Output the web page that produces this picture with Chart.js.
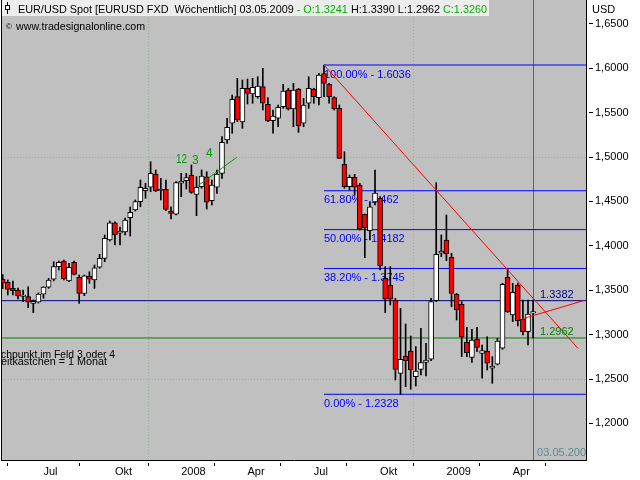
<!DOCTYPE html>
<html>
<head>
<meta charset="utf-8">
<script src="https://cdn.jsdelivr.net/npm/chart.js@4.4.0/dist/chart.umd.min.js"></script>
<style>
  html, body { margin: 0; padding: 0; background: #fff; }
  canvas { display: block; }
</style>
</head>
<body>
<canvas id="chart" width="640" height="480"></canvas>
<script>
// EUR/USD Wochenkerzen, 06.05.2007 .. 03.05.2009 (Index 0..104)
const open = [
  1.3623, 1.3589, 1.3521, 1.3502, 1.3430, 1.3427, 1.3352, 1.3364, 1.3454, 1.3533,
  1.3623, 1.3765, 1.3829, 1.3604, 1.3814, 1.3645, 1.3465, 1.3660, 1.3615, 1.3758,
  1.3859, 1.4065, 1.4260, 1.4141, 1.4155, 1.4316, 1.4403, 1.4497, 1.4621, 1.4659,
  1.4809, 1.4640, 1.4636, 1.4392, 1.4355, 1.4704, 1.4733, 1.4797, 1.4580, 1.4666,
  1.4778, 1.4508, 1.4659, 1.4816, 1.5191, 1.5380, 1.5679, 1.5394, 1.5774, 1.5709,
  1.5679, 1.5792, 1.5593, 1.5409, 1.5436, 1.5566, 1.5754, 1.5541, 1.5766, 1.5380,
  1.5605, 1.5766, 1.5668, 1.5940, 1.5819, 1.5668, 1.5548, 1.4918, 1.4666, 1.4771,
  1.4685, 1.4355, 1.4170, 1.4493, 1.4535, 1.3634, 1.3559, 1.3390, 1.2564, 1.2759,
  1.2815, 1.2526, 1.2609, 1.2688, 1.2722, 1.3382, 1.3916, 1.4065, 1.3871, 1.3454,
  1.3341, 1.2913, 1.2744, 1.2947, 1.2789, 1.2815, 1.2621, 1.2666, 1.2846, 1.3645,
  1.3221, 1.3559, 1.3176, 1.3033, 1.3241
];
const high = [
  1.3675, 1.3615, 1.3604, 1.3525, 1.3502, 1.3539, 1.3390, 1.3469, 1.3539, 1.3634,
  1.3821, 1.3829, 1.3840, 1.3803, 1.3829, 1.3671, 1.3671, 1.3708, 1.3784, 1.3904,
  1.4122, 1.4279, 1.4271, 1.4212, 1.4313, 1.4437, 1.4516, 1.4741, 1.4704, 1.4947,
  1.4854, 1.4760, 1.4741, 1.4440, 1.4722, 1.4816, 1.4816, 1.4910, 1.4778, 1.4854,
  1.4834, 1.4741, 1.4854, 1.5229, 1.5436, 1.5698, 1.5886, 1.5867, 1.5878, 1.5886,
  1.5904, 1.5999, 1.5668, 1.5529, 1.5586, 1.5819, 1.5774, 1.5830, 1.5774, 1.5661,
  1.5904, 1.5774, 1.5943, 1.6036, 1.5830, 1.5679, 1.5586, 1.5060, 1.4797, 1.4805,
  1.4704, 1.4358, 1.4497, 1.4854, 1.4553, 1.3765, 1.3765, 1.3409, 1.3296, 1.3119,
  1.2984, 1.2864, 1.3071, 1.2902, 1.3409, 1.4711, 1.4122, 1.4347, 1.3916, 1.3465,
  1.3371, 1.3082, 1.3060, 1.3082, 1.2883, 1.2976, 1.2751, 1.2958, 1.3578, 1.3735,
  1.3578, 1.3578, 1.3390, 1.3390, 1.3390
];
const low = [
  1.3517, 1.3446, 1.3446, 1.3401, 1.3371, 1.3303, 1.3247, 1.3356, 1.3409, 1.3521,
  1.3604, 1.3728, 1.3615, 1.3596, 1.3671, 1.3352, 1.3438, 1.3578, 1.3521, 1.3747,
  1.3821, 1.4054, 1.4009, 1.4009, 1.4122, 1.4110, 1.4392, 1.4440, 1.4535, 1.4609,
  1.4609, 1.4516, 1.4395, 1.4302, 1.4347, 1.4553, 1.4640, 1.4591, 1.4339, 1.4648,
  1.4414, 1.4459, 1.4591, 1.4760, 1.5154, 1.5267, 1.5398, 1.5323, 1.5597, 1.5605,
  1.5661, 1.5529, 1.5398, 1.5267, 1.5341, 1.5548, 1.5529, 1.5341, 1.5278, 1.5341,
  1.5548, 1.5605, 1.5586, 1.5679, 1.5605, 1.5529, 1.4982, 1.4648, 1.4628, 1.4572,
  1.4178, 1.3866, 1.4065, 1.4459, 1.3728, 1.3247, 1.3333, 1.2489, 1.2328, 1.2413,
  1.2384, 1.2421, 1.2545, 1.2534, 1.2706, 1.3371, 1.3877, 1.3832, 1.3314, 1.3164,
  1.2751, 1.2751, 1.2688, 1.2807, 1.2508, 1.2601, 1.2452, 1.2658, 1.2834, 1.3247,
  1.3145, 1.3097, 1.2996, 1.2883, 1.2962
];
const close = [
  1.3578, 1.3510, 1.3494, 1.3435, 1.3445, 1.3364, 1.3375, 1.3457, 1.3536, 1.3615,
  1.3765, 1.3814, 1.3626, 1.3758, 1.3679, 1.3465, 1.3663, 1.3623, 1.3753, 1.3859,
  1.4084, 1.4260, 1.4122, 1.4167, 1.4291, 1.4377, 1.4497, 1.4659, 1.4648, 1.4816,
  1.4617, 1.4624, 1.4411, 1.4366, 1.4711, 1.4730, 1.4767, 1.4602, 1.4659, 1.4786,
  1.4490, 1.4685, 1.4809, 1.5166, 1.5334, 1.5650, 1.5417, 1.5774, 1.5717, 1.5785,
  1.5800, 1.5605, 1.5405, 1.5462, 1.5560, 1.5743, 1.5541, 1.5754, 1.5352, 1.5586,
  1.5774, 1.5679, 1.5923, 1.5830, 1.5679, 1.5541, 1.4985, 1.4666, 1.4771, 1.4659,
  1.4189, 1.4204, 1.4440, 1.4595, 1.3773, 1.3398, 1.3398, 1.2609, 1.2722, 1.2706,
  1.2601, 1.2590, 1.2684, 1.2714, 1.3371, 1.3904, 1.3941, 1.3908, 1.3465, 1.3277,
  1.2970, 1.2796, 1.2939, 1.2857, 1.2819, 1.2677, 1.2646, 1.2928, 1.3566, 1.3258,
  1.3476, 1.3157, 1.3033, 1.3232, 1.3260
];

// Achsen
const monthIdx = [8, 22, 35, 48, 61, 74, 87, 100];
const monthLbl = ['Jul', 'Okt', '2008', 'Apr', 'Jul', 'Okt', '2009', 'Apr'];
const yearIdx = [35, 87];
const yTicks = [1.20, 1.25, 1.30, 1.35, 1.40, 1.45, 1.50, 1.55, 1.60, 1.65];
const yGrid = [1.25, 1.50];
const xMin = -0.137, xMax = 114.37;
const yMin = 1.158784, yMax = 1.676802;

// Fibonacci / Linien
const fibPct = ['100.00%', '61.80%', '50.00%', '38.20%', '0.00%'];
const fibVal = [1.6036, 1.462, 1.4182, 1.3745, 1.2328];
const fibTxt = ['1.6036', '1.462', '1.4182', '1.3745', '1.2328'];
const fibStart = 63;
const levelVal = [1.3382, 1.2962];
const levelCol = ['#000080', '#008000'];
const trendX = [63, 112.8];
const trendY = [1.6036, 1.2845];
const trend2X = [101.8, 113.85];
const trend2Y = [1.3176, 1.3382];
const waveX = [38.04, 45.9];
const waveY = [1.4666, 1.4997];
const lastIdx = 104;
const lastDate = '03.05.2009';

const gridCol = '#90b890';
const idx = open.map((_, i) => i);

const lineDs = (xs, ys, color, order) => ({
  type: 'line',
  data: xs.map((x, i) => ({ x: x, y: ys[i] })),
  borderColor: color,
  borderWidth: 1,
  pointRadius: 0,
  fill: false,
  tension: 0,
  order: order
});

const datasets = [];
datasets.push(lineDs(trendX, trendY, '#ff0000', 0));
datasets.push(lineDs(trend2X, trend2Y, '#ff0000', 0));
datasets.push(lineDs(waveX, waveY, '#009a00', 0));
datasets.push({
  type: 'bar',
  data: idx.map(i => ({ x: i, y: [open[i], close[i]] })),
  backgroundColor: idx.map(i => close[i] < open[i] ? '#ff0000' : '#ffffff'),
  borderColor: '#000',
  borderWidth: 1,
  borderSkipped: false,
  barThickness: 5,
  grouped: false,
  order: 1
});
datasets.push({
  type: 'bar',
  data: idx.map(i => ({ x: i, y: [low[i], high[i]] })),
  backgroundColor: '#000',
  borderWidth: 0,
  barThickness: 1,
  grouped: false,
  order: 2
});
fibVal.forEach(v => datasets.push(lineDs([fibStart, xMax], [v, v], '#0000ff', 3)));
levelVal.forEach((v, k) => datasets.push(lineDs([xMin, xMax], [v, v], levelCol[k], 3)));

Chart.defaults.font.family = '"Liberation Sans", Arial, sans-serif';
Chart.defaults.font.size = 11;

function txt(ctx, s, x, y, color, size, maxW) {
  ctx.font = (size || 11) + 'px "Liberation Sans", Arial, sans-serif';
  ctx.fillStyle = color;
  if (maxW) ctx.fillText(s, x, y, maxW); else ctx.fillText(s, x, y);
}

const decor = {
  id: 'decor',
  beforeDraw(chart) {
    const { ctx, chartArea: a } = chart;
    ctx.save();
    ctx.fillStyle = '#fff';
    ctx.fillRect(0, 0, chart.width, chart.height);
    ctx.fillStyle = '#c0c0c0';
    ctx.fillRect(a.left, a.top, a.right - a.left, a.bottom - a.top);
    ctx.restore();
  },
  beforeDatasetsDraw(chart) {
    const { ctx, chartArea: a, scales: { x, y } } = chart;
    ctx.save();
    // Datums-Cursor
    const cx = Math.round(x.getPixelForValue(lastIdx)) + 0.5;
    ctx.strokeStyle = '#41707a';
    ctx.lineWidth = 1;
    ctx.beginPath();
    ctx.moveTo(cx, a.top);
    ctx.lineTo(cx, a.bottom);
    ctx.stroke();
    // Fibonacci-Beschriftung
    const fx = x.getPixelForValue(fibStart);
    fibVal.forEach((v, k) => {
      txt(ctx, fibPct[k] + ' - ' + fibTxt[k], fx, y.getPixelForValue(v) + 12.5, '#0000ff', 11);
    });
    ctx.restore();
  },
  afterDatasetsDraw(chart) {
    const { ctx, chartArea: a, scales: { x, y } } = chart;
    ctx.save();
    ctx.textBaseline = 'alphabetic';
    // Niveaus rechts
    levelVal.forEach((v, k) => {
      txt(ctx, v.toFixed(4), 540, y.getPixelForValue(v) - 3, levelCol[k], 11);
    });
    // Wellenzaehlung
    txt(ctx, '12', 176, 163, '#009a00', 12, 11);
    txt(ctx, '3', 192, 164, '#009a00', 12);
    txt(ctx, '4', 206, 157, '#009a00', 12);
    // Notizen (links abgeschnitten)
    txt(ctx, 'chpunkt im Feld 3 oder 4', 1, 358, '#000', 11, 114);
    txt(ctx, 'eitkästchen = 1 Monat', 1, 365, '#000', 11, 106);
    // Datum unten am Cursor
    ctx.save();
    ctx.beginPath();
    ctx.rect(a.left, a.top, a.right - a.left, a.bottom - a.top);
    ctx.clip();
    txt(ctx, lastDate, x.getPixelForValue(lastIdx) + 4, 456, '#5b8c8c', 11);
    ctx.restore();

    // Kopfzeile
    ctx.fillStyle = '#ededed';
    ctx.fillRect(2, 0, 487, 16);
    ctx.fillStyle = '#000';
    ctx.fillRect(7, 2, 1, 12);
    ctx.fillStyle = '#fff';
    ctx.fillRect(5, 5, 5, 5);
    ctx.strokeStyle = '#000';
    ctx.lineWidth = 1;
    ctx.strokeRect(5.5, 5.5, 4, 4);
    const parts = [
      ['EUR/USD Spot [EURUSD FXD  Wöchentlich] ' + lastDate + ' ', '#000'],
      ['- O:' + open[lastIdx].toFixed(4) + ' ', '#00b000'],
      ['H:' + high[lastIdx].toFixed(4) + ' L:' + low[lastIdx].toFixed(4) + ' ', '#000'],
      ['C:' + close[lastIdx].toFixed(4), '#00b000']
    ];
    ctx.font = '11px "Liberation Sans", Arial, sans-serif';
    const widths = parts.map(p => ctx.measureText(p[0]).width);
    const total = widths.reduce((s, w) => s + w, 0);
    const k = Math.min(1, 469 / total);
    let tx = 18;
    parts.forEach((p, i) => {
      txt(ctx, p[0], tx, 13, p[1], 11, widths[i] * k);
      tx += widths[i] * k;
    });
    txt(ctx, '©', 6, 29, '#000', 8);
    txt(ctx, 'www.tradesignalonline.com', 16, 30, '#000', 11, 129);
    txt(ctx, 'USD', 592, 13, '#000', 11);
    // linker Rahmen
    ctx.fillStyle = '#000';
    ctx.fillRect(1, 0, 1, 461);
    ctx.restore();
  }
};

new Chart(document.getElementById('chart'), {
  type: 'bar',
  data: { datasets: datasets },
  options: {
    responsive: false,
    animation: false,
    devicePixelRatio: 1,
    layout: { padding: { left: 2, top: 0, right: 0, bottom: 0 } },
    plugins: { legend: { display: false }, tooltip: { enabled: false } },
    scales: {
      x: {
        type: 'linear',
        min: xMin,
        max: xMax,
        offset: false,
        afterBuildTicks: s => { s.ticks = monthIdx.map(v => ({ value: v })); },
        afterFit: s => { s.height = 20; s.paddingLeft = 0; s.paddingRight = 0; },
        ticks: {
          autoSkip: false, maxRotation: 0, minRotation: 0, align: 'start',
          padding: -1, color: '#000',
          callback: v => monthLbl[monthIdx.indexOf(v)]
        },
        grid: {
          color: c => (c.tick && yearIdx.includes(c.tick.value)) ? gridCol : 'rgba(0,0,0,0)',
          lineWidth: 1, drawTicks: true, tickLength: 6, tickColor: '#000', tickWidth: 1,
          tickBorderDash: [0, 2, 4, 10]
        },
        border: { display: true, color: '#000', width: 1, dash: [1, 2] }
      },
      y: {
        type: 'linear',
        position: 'right',
        min: yMin,
        max: yMax,
        afterBuildTicks: s => { s.ticks = yTicks.map(v => ({ value: v })); },
        afterFit: s => { s.width = 54; s.paddingTop = 0; s.paddingBottom = 0; },
        ticks: {
          padding: 2, color: '#000',
          callback: v => v.toFixed(4).replace('.', ',')
        },
        grid: {
          color: c => (c.tick && yGrid.some(g => Math.abs(g - c.tick.value) < 1e-6)) ? gridCol : 'rgba(0,0,0,0)',
          lineWidth: 1, drawTicks: true, tickLength: 7, tickColor: '#000', tickWidth: 1,
          tickBorderDash: [0, 2, 5, 10]
        },
        border: { display: true, color: '#000', width: 1, dash: [1, 2] }
      }
    }
  },
  plugins: [decor]
});
</script>
</body>
</html>
